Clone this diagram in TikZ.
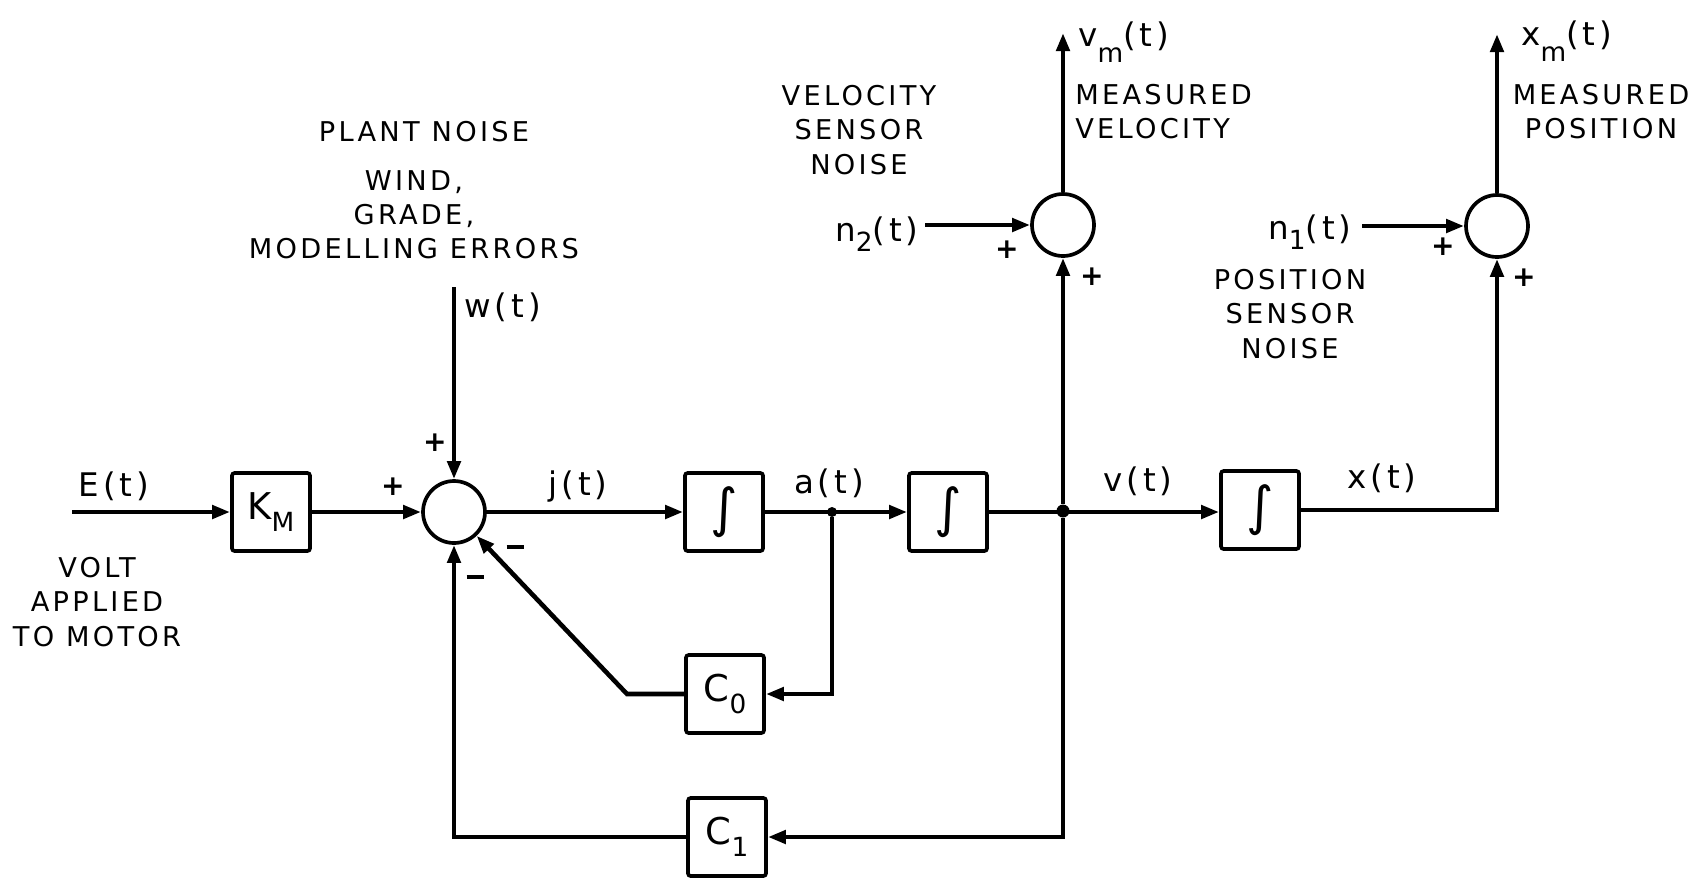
\documentclass[tikz,border=0pt]{standalone}
\usepackage{fontspec}
\setmainfont{DejaVu Sans}[LetterSpace=12]
\usetikzlibrary{arrows.meta}
\newcommand{\sbs}[1]{\raisebox{-0.6ex}{\fontsize{15pt}{15pt}\selectfont #1}}
\begin{document}
\begin{tikzpicture}[x=0.02cm,y=-0.02cm,
  font=\fontsize{15.5pt}{19.4pt}\selectfont,
  blk/.style={draw, line width=2.1pt, rounded corners=1.5pt, minimum width=1.56cm, minimum height=1.56cm, inner sep=0pt, font=\fontsize{21pt}{21pt}\selectfont},
  sumn/.style={draw, circle, line width=2.1pt, minimum size=1.24cm, inner sep=0pt},
  conn/.style={line width=2.6pt},
  arr/.style={conn, -{Triangle[length=0.36cm,width=0.26cm]}},
  lbl/.style={inner sep=0pt, align=center},
  sig/.style={inner sep=0pt, font=\fontsize{18.5pt}{18.5pt}\selectfont},
  sgn/.style={inner sep=0pt, font=\fontsize{16pt}{16pt}\selectfont\bfseries},
  dotn/.style={circle, fill, inner sep=0pt, minimum size=0.26cm},
  integ/.style={font=\fontsize{30pt}{30pt}\selectfont}]
\useasboundingbox (0,0) rectangle (1707,877);

% blocks
\node[blk] (km) at (271,512) {K\sbs{M}};
\node[sumn] (sum1) at (454,512) {};
\node[blk, integ] (int1) at (724,512) {∫};
\node[blk, integ] (int2) at (948,512) {∫};
\node[blk, integ] (int3) at (1260,510) {∫};
\node[blk] (c0) at (725,694) {C\sbs{0}};
\node[blk] (c1) at (727,837) {C\sbs{1}};
\node[sumn] (sum2) at (1063,225) {};
\node[sumn] (sum3) at (1497,226) {};
\node[dotn, minimum size=0.2cm] (ja) at (832,512) {};
\node[dotn] (jv) at (1063,511) {};

% free ends
\coordinate (ein) at (72,512);
\coordinate (win) at (454,287);
\coordinate (n2in) at (925,225);
\coordinate (n1in) at (1362,226);
\coordinate (vmout) at (1063,33);
\coordinate (xmout) at (1497,34);
\coordinate (c0k) at (627,694);

% connectors
\draw[arr] (ein) -- (km.west);
\draw[arr] (km.east) -- (sum1.west);
\draw[arr] (win) -- (sum1.north);
\draw[arr] (sum1.east) -- (int1.west);
\draw[arr] (int1.east) -- (int2.west);
\draw[arr] (int2.east) -- (int3.west |- int2.east);
\draw[arr] (int3.east) -- (int3.east -| sum3.south) -- (sum3.south);
\draw[arr] (jv) -- (sum2.south);
\draw[arr] (sum2.north) -- (vmout);
\draw[arr] (sum3.north) -- (xmout);
\draw[arr] (n2in) -- (sum2.west);
\draw[arr] (n1in) -- (sum3.west);
\draw[arr] (ja) -- (ja |- c0.east) -- (c0.east);
\draw[arr] (c0.west) -- (c0k) -- (sum1);
\draw[arr] (jv) -- (jv |- c1.east) -- (c1.east);
\draw[arr] (c1.west) -- (c1.west -| sum1.south) -- (sum1.south);

% signal labels
\node[sig] (lE) at (114,486) {E(t)};
\node[sig] (lj) at (578,487) {j(t)};
\node[sig] (la) at (829,483) {a(t)};
\node[sig] (lv) at (1138,481) {v(t)};
\node[sig] (lx) at (1382,478) {x(t)};
\node[sig, anchor=west] (lw) at (464,307) {w(t)};
\node[sig, anchor=east] (ln2) at (919,234) {n\sbs{2}(t)};
\node[sig, anchor=east] (ln1) at (1352,232) {n\sbs{1}(t)};
\node[sig, anchor=west] (lvm) at (1078,42) {v\raisebox{-0.3ex}{\sbs{m}}(t)};
\node[sig, anchor=west] (lxm) at (1521,41) {x\raisebox{-0.3ex}{\sbs{m}}(t)};

% descriptive texts
\node[lbl] (tplant) at (424,132) {PLANT NOISE};
\node[lbl] (twind) at (414,215) {WIND,\\GRADE,\\MODELLING ERRORS};
\node[lbl] (tvolt) at (97,602) {VOLT\\APPLIED\\TO MOTOR};
\node[lbl] (tvsn) at (859,130) {VELOCITY\\SENSOR\\NOISE};
\node[lbl, align=left, anchor=west] (tmv) at (1075,112) {MEASURED\\VELOCITY};
\node[lbl] (tmp) at (1601,112) {MEASURED\\POSITION};
\node[lbl] (tpsn) at (1290,314) {POSITION\\SENSOR\\NOISE};

% signs
\node[sgn] (s1) at (393,487) {+};
\node[sgn] (s2) at (435,443) {+};
\node[sgn] (s3) at (515,547) {\rule{0.34cm}{0.085cm}};
\node[sgn] (s4) at (475,577) {\rule{0.34cm}{0.085cm}};
\node[sgn] (s5) at (1007,250) {+};
\node[sgn] (s6) at (1092,277) {+};
\node[sgn] (s7) at (1443,247) {+};
\node[sgn] (s8) at (1524,278) {+};
\end{tikzpicture}
\end{document}
